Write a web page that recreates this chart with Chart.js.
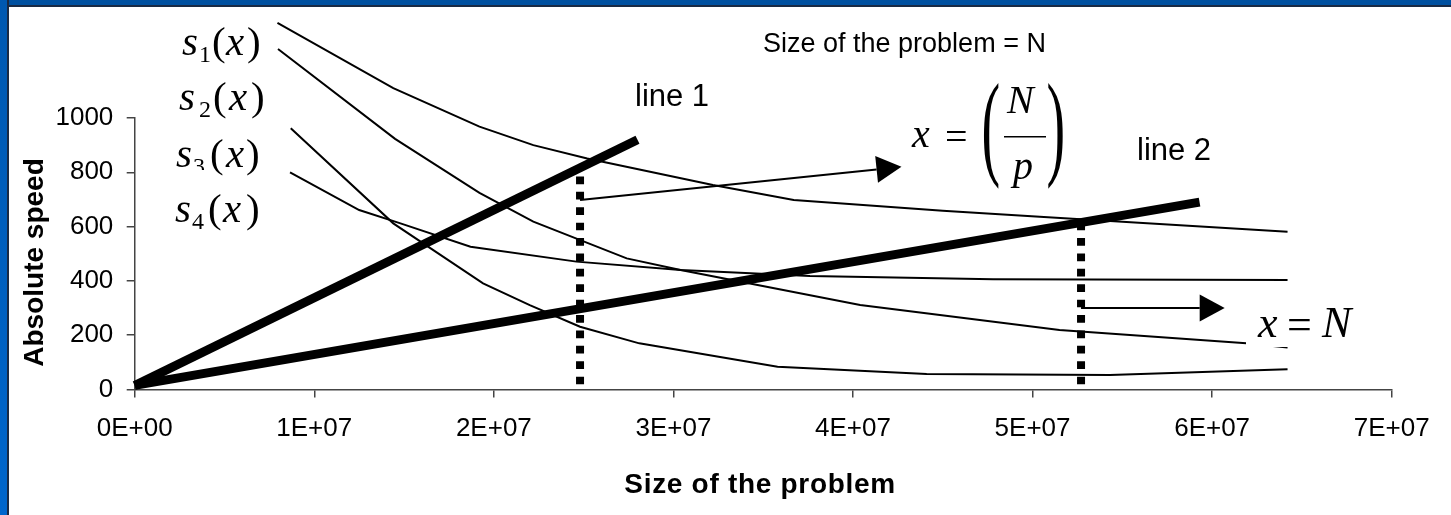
<!DOCTYPE html>
<html>
<head>
<meta charset="utf-8">
<title>Absolute speed vs size of the problem</title>
<script src="https://cdn.jsdelivr.net/npm/chart.js@4.4.1/dist/chart.umd.min.js"></script>
<style>
  html, body { margin: 0; padding: 0; background: #fff; overflow: hidden; }
  #wrap { position: relative; width: 1451px; height: 515px; }
  canvas { position: absolute; left: 0; top: 0; }
  #frameTop { position: absolute; left: 0; top: 0; width: 1451px; height: 5px;
              background: #0050a0; border-bottom: 2px solid #1a2a44; }
  #frameLeft { position: absolute; left: 0; top: 0; width: 7px; height: 515px;
               background: linear-gradient(#0058b0, #0066cc); border-right: 2px solid #1a2a44; }
</style>
</head>
<body>
<div id="wrap">
  <canvas id="chart" width="1451" height="515"></canvas>
  <div id="frameTop"></div>
  <div id="frameLeft"></div>
</div>
<script>
// ---- axis ticks ----
const sizeTicks  = [0, 1e7, 2e7, 3e7, 4e7, 5e7, 6e7, 7e7];
const speedTicks = [0, 200, 400, 600, 800, 1000];

// ---- speed curves s1..s4 (problem size, absolute speed) ----
const s1Size  = [0.795e7, 1.44e7, 1.92e7, 2.22e7, 2.52e7, 3.22e7, 3.67e7, 4.5e7, 5.04e7, 6.42e7];
const s1Speed = [1350, 1110, 968, 900, 851, 753, 698, 658, 636, 581];

const s2Size  = [0.798e7, 1.45e7, 1.92e7, 2.22e7, 2.74e7, 3.04e7, 4.04e7, 5.15e7, 6.19e7, 6.42e7];
const s2Speed = [1254, 923, 724, 618, 483, 440, 311, 219, 170, 155];

const s3Size  = [0.869e7, 1.44e7, 1.94e7, 2.2e7, 2.48e7, 2.81e7, 3.26e7, 3.58e7, 4.41e7, 5.43e7, 6.42e7];
const s3Speed = [962, 612, 391, 311, 231, 170, 120, 84, 57, 53, 75];

const s4Size  = [0.865e7, 1.25e7, 1.48e7, 1.87e7, 2.46e7, 3.04e7, 3.76e7, 4.78e7, 6.42e7];
const s4Speed = [800, 661, 612, 526, 471, 440, 418, 406, 403];

// ---- straight lines through the origin ----
const line1Size  = [0, 2.80e7];
const line1Speed = [15, 920];
const line2Size  = [0, 5.93e7];
const line2Speed = [15, 690];

// ---- dotted drop lines at the intersections ----
const dropSize     = [2.48e7, 5.27e7];
const dropTopSpeed = [812, 615];
const dropBottom   = 19;

// ---- arrows pointing to the formulas ----
const arrowFromSize  = [2.48e7, 5.27e7];
const arrowFromSpeed = [698, 300];
const arrowToSize    = [4.27e7, 6.07e7];
const arrowToSpeed   = [820, 300];

const sansFont = '"Liberation Sans", Arial, sans-serif';
const mathFont = '"Liberation Serif", "Times New Roman", serif';

const pts = (xs, ys) => xs.map((x, i) => ({ x, y: ys[i] }));

function sciLabel(v) {
  if (v === 0) return '0E+00';
  const e = Math.floor(Math.log10(v) + 1e-9);
  const m = Math.round(v / Math.pow(10, e));
  return m + 'E+' + String(e).padStart(2, '0');
}

const thinLine = { borderColor: '#000', borderWidth: 2, pointRadius: 0, tension: 0,
                   fill: false, clip: false, order: 2 };
const thickLine = { borderColor: '#000', borderWidth: 9, pointRadius: 0, tension: 0,
                    fill: false, clip: false, order: 0, borderCapStyle: 'butt' };

const datasets = [
  { ...thickLine, label: 'line 1', data: pts(line1Size, line1Speed) },
  { ...thickLine, label: 'line 2', data: pts(line2Size, line2Speed) },
  ...dropSize.map((s, i) => ({
    label: 'drop ' + (i + 1), data: pts([s, s], [dropBottom, dropTopSpeed[i]]),
    borderColor: '#000', borderWidth: 8, borderDash: [7.7, 7.7], borderCapStyle: 'butt',
    pointRadius: 0, fill: false, clip: false, order: 1
  })),
  { ...thinLine, label: 's1', data: pts(s1Size, s1Speed) },
  { ...thinLine, label: 's2', data: pts(s2Size, s2Speed) },
  { ...thinLine, label: 's3', data: pts(s3Size, s3Speed) },
  { ...thinLine, label: 's4', data: pts(s4Size, s4Speed) }
];

// text pieces for the formulas (italic variables, upright digits and brackets)
const serif = (size, italic) => (italic ? 'italic ' : '') + size + 'px ' + mathFont;
const tagLabels = [
  [ { t: 's', f: serif(41, true), x: 182, y: 55 },
    { t: '1', f: serif(24), x: 199, y: 62 },
    { t: '(', f: serif(41), x: 212, y: 55 },
    { t: 'x', f: serif(41, true), x: 226, y: 55 },
    { t: ')', f: serif(41), x: 247, y: 55 } ],
  [ { t: 's', f: serif(41, true), x: 179, y: 110 },
    { t: '2', f: serif(24), x: 199, y: 117 },
    { t: '(', f: serif(41), x: 213, y: 110 },
    { t: 'x', f: serif(41, true), x: 229, y: 110 },
    { t: ')', f: serif(41), x: 251, y: 110 } ],
  [ { t: 's', f: serif(41, true), x: 176, y: 166.7 },
    { t: '3', f: serif(24), x: 193, y: 174, clipBottom: 170 },
    { t: '(', f: serif(41), x: 210, y: 166.7 },
    { t: 'x', f: serif(41, true), x: 226, y: 166.7 },
    { t: ')', f: serif(41), x: 246, y: 166.7 } ],
  [ { t: 's', f: serif(41, true), x: 175, y: 221.7 },
    { t: '4', f: serif(24), x: 192, y: 229 },
    { t: '(', f: serif(41), x: 208, y: 221.7 },
    { t: 'x', f: serif(41, true), x: 223, y: 221.7 },
    { t: ')', f: serif(41), x: 246, y: 221.7 } ]
];

function drawPieces(ctx, pieces) {
  for (const p of pieces) {
    ctx.save();
    if (p.clipBottom !== undefined) {
      ctx.beginPath();
      ctx.rect(0, 0, 1451, p.clipBottom);
      ctx.clip();
    }
    ctx.font = p.f;
    ctx.fillText(p.t, p.x, p.y);
    ctx.restore();
  }
}

// a bracket glyph stretched to span [top, bottom]
function tallGlyph(ctx, ch, font, left, top, bottom, sx) {
  ctx.save();
  ctx.font = font;
  const m = ctx.measureText(ch);
  const h = m.actualBoundingBoxAscent + m.actualBoundingBoxDescent;
  ctx.translate(left, top);
  ctx.scale(sx, (bottom - top) / h);
  ctx.fillText(ch, m.actualBoundingBoxLeft, m.actualBoundingBoxAscent);
  ctx.restore();
}

function drawArrow(ctx, x0, y0, x1, y1) {
  const a = Math.atan2(y1 - y0, x1 - x0);
  const len = 25, half = 13.5;
  const bx = x1 - len * Math.cos(a), by = y1 - len * Math.sin(a);
  ctx.beginPath();
  ctx.moveTo(x0, y0);
  ctx.lineTo(bx, by);
  ctx.lineWidth = 2;
  ctx.strokeStyle = '#000';
  ctx.stroke();
  ctx.beginPath();
  ctx.moveTo(x1, y1);
  ctx.lineTo(bx + half * Math.sin(a), by - half * Math.cos(a));
  ctx.lineTo(bx - half * Math.sin(a), by + half * Math.cos(a));
  ctx.closePath();
  ctx.fillStyle = '#000';
  ctx.fill();
}

const annotations = {
  id: 'annotations',
  afterDatasetsDraw(chart) {
    const { ctx } = chart;
    const xs = chart.scales.x, ys = chart.scales.y;
    ctx.save();
    ctx.fillStyle = '#000';
    ctx.textAlign = 'left';
    ctx.textBaseline = 'alphabetic';

    // arrows
    for (let i = 0; i < arrowFromSize.length; i++) {
      drawArrow(ctx,
        xs.getPixelForValue(arrowFromSize[i]), ys.getPixelForValue(arrowFromSpeed[i]),
        xs.getPixelForValue(arrowToSize[i]), ys.getPixelForValue(arrowToSpeed[i]));
    }

    // curve tags s1(x) .. s4(x)
    ctx.fillStyle = '#000';
    tagLabels.forEach(parts => drawPieces(ctx, parts));

    // plain captions
    ctx.font = '27px ' + sansFont;
    ctx.fillText('Size of the problem = N', 763, 52.3);
    ctx.font = '31px ' + sansFont;
    ctx.fillText('line 1', 635, 106);
    ctx.fillText('line 2', 1137, 160);

    // x = (N / p)
    drawPieces(ctx, [
      { t: 'x', f: serif(40, true), x: 912, y: 147 },
      { t: '=', f: serif(40), x: 945, y: 150 },
      { t: 'N', f: serif(40, true), x: 1007, y: 113 },
      { t: 'p', f: serif(40, true), x: 1013, y: 179 }
    ]);
    tallGlyph(ctx, '(', serif(40), 983, 82, 190, 1.4);
    tallGlyph(ctx, ')', serif(40), 1048, 82, 190, 1.4);
    ctx.beginPath();
    ctx.moveTo(1004, 136.7);
    ctx.lineTo(1046, 136.7);
    ctx.lineWidth = 1.6;
    ctx.strokeStyle = '#000';
    ctx.stroke();

    // x = N on its own white panel
    ctx.fillStyle = '#fff';
    ctx.fillRect(1246, 298, 116, 49);
    ctx.fillStyle = '#000';
    drawPieces(ctx, [
      { t: 'x', f: serif(44, true), x: 1258, y: 337 },
      { t: '=', f: serif(44), x: 1287, y: 339 },
      { t: 'N', f: serif(44, true), x: 1322, y: 337 }
    ]);

    // axis titles
    ctx.font = 'bold 28px ' + sansFont;
    ctx.save();
    ctx.translate(43.3, 262.5);
    ctx.rotate(-Math.PI / 2);
    ctx.textAlign = 'center';
    ctx.fillText('Absolute speed', 0, 0);
    ctx.restore();
    ctx.letterSpacing = '0.7px';
    ctx.fillText('Size of the problem', 624.3, 493.3);
    ctx.letterSpacing = '0px';

    ctx.restore();
  }
};

const axisColor = '#444';

new Chart(document.getElementById('chart'), {
  type: 'line',
  data: { datasets },
  options: {
    responsive: false,
    animation: false,
    events: [],
    layout: { padding: { left: 0, top: 118, right: 59.3, bottom: 0 } },
    plugins: { legend: { display: false }, tooltip: { enabled: false } },
    scales: {
      x: {
        type: 'linear',
        min: 0, max: 7e7,
        afterBuildTicks: s => { s.ticks = sizeTicks.map(v => ({ value: v })); },
        afterFit: s => { s.height = 125.5; },
        grid: { display: true, drawOnChartArea: false, drawTicks: true, tickLength: 8,
                color: axisColor, lineWidth: 1.5 },
        border: { display: true, color: axisColor, width: 1.5 },
        ticks: { color: '#000', font: { size: 26, family: sansFont }, padding: 16,
                 maxRotation: 0, autoSkip: false, callback: v => sciLabel(v) }
      },
      y: {
        type: 'linear',
        min: 0, max: 1000,
        afterBuildTicks: s => { s.ticks = speedTicks.map(v => ({ value: v })); },
        afterFit: s => { s.width = 134.7; },
        grid: { display: true, drawOnChartArea: false, drawTicks: true, tickLength: 8,
                color: axisColor, lineWidth: 1.5 },
        border: { display: true, color: axisColor, width: 1.5 },
        ticks: { color: '#000', font: { size: 26, family: sansFont }, padding: 13.4,
                 autoSkip: false, callback: v => String(v) }
      }
    }
  },
  plugins: [annotations]
});
</script>
</body>
</html>
